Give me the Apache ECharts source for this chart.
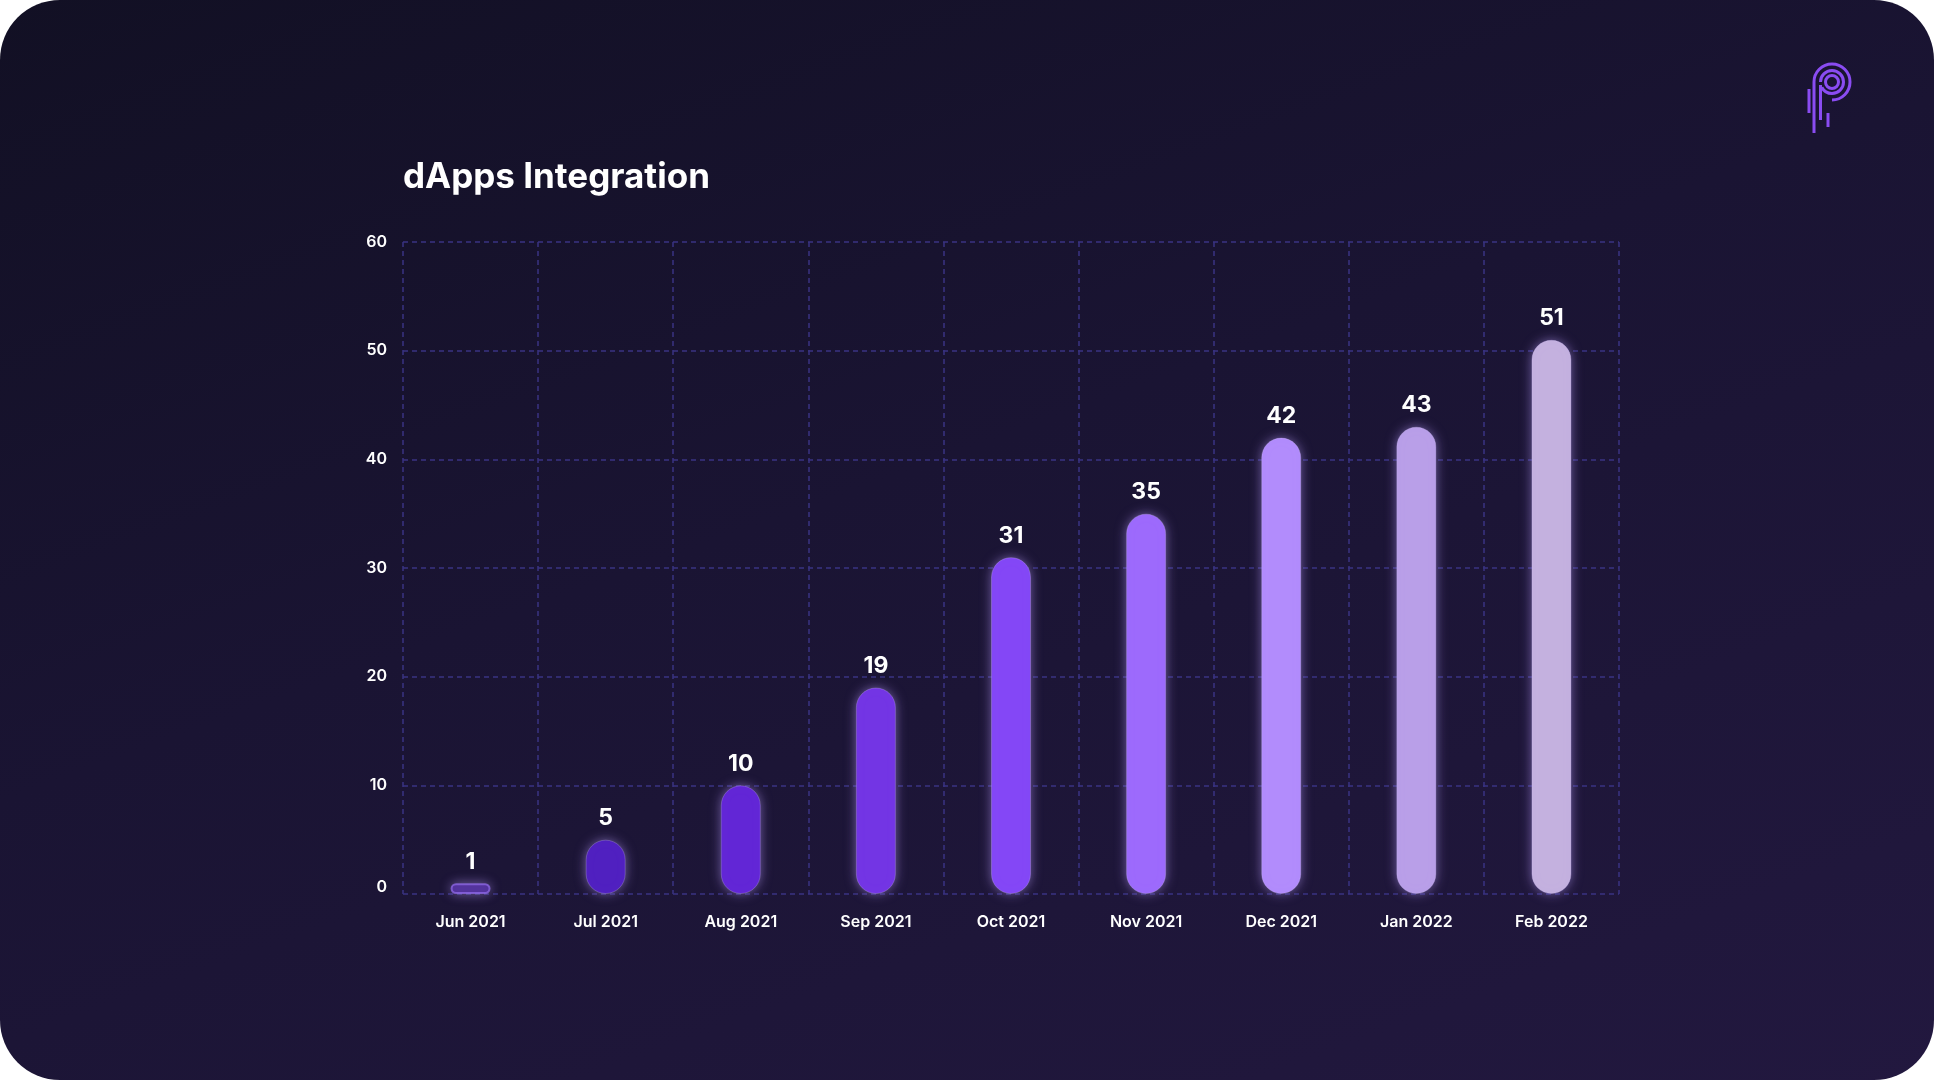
<!DOCTYPE html>
<html>
<head>
<meta charset="utf-8">
<script src="https://cdn.jsdelivr.net/npm/echarts@6/dist/echarts.min.js"></script>
<style>
  html, body { margin: 0; padding: 0; background: #ffffff; }
  #card {
    width: 1934px; height: 1080px;
    border-radius: 60px; overflow: hidden;
    background: linear-gradient(160deg, #121024 0%, #1a1433 45%, #22183f 100%);
  }
  #main { width: 1934px; height: 1080px; }
</style>
</head>
<body>
<div id="card"><div id="main"></div></div>
<script>
// chart data
let months = ['Jun 2021', 'Jul 2021', 'Aug 2021', 'Sep 2021', 'Oct 2021', 'Nov 2021', 'Dec 2021', 'Jan 2022', 'Feb 2022'];
let dappsCount = [1, 5, 10, 19, 31, 35, 42, 43, 51];
let barColors = ['#4b2b95', '#5020c0', '#6226d6', '#7335e4', '#8447f6', '#9d6afc', '#b28cfc', '#b99fe8', '#c4b1df'];

let fontName = 'Inter, Lato, sans-serif';
let gridColor = '#3a3382';

let myChart = echarts.init(document.getElementById('main'), null, { renderer: 'canvas' });

let barData = dappsCount.map((v, i) => ({
    value: v,
    itemStyle: {
        color: barColors[i],
        borderColor: i === 0 ? 'rgba(150,110,240,0.7)' : 'rgba(220,200,255,0.25)',
        borderWidth: i === 0 ? 2 : 1,
        shadowColor: 'rgba(190,160,255,0.55)',
        shadowBlur: 12
    }
}));

// logo lines (decoration, top right)
let logoColor = '#8a4cf2';
let lx = 1832, ly = 82;
let logo = [
    { type: 'circle', shape: { cx: lx, cy: ly, r: 6.5 }, style: { fill: 'none', stroke: logoColor, lineWidth: 3 } },
    { type: 'arc', shape: { cx: lx, cy: ly, r: 11.5, startAngle: Math.PI, endAngle: Math.PI * 0.85, clockwise: true }, style: { fill: 'none', stroke: logoColor, lineWidth: 3 } },
    { type: 'arc', shape: { cx: lx, cy: ly, r: 18, startAngle: Math.PI, endAngle: Math.PI * 0.5, clockwise: true }, style: { fill: 'none', stroke: logoColor, lineWidth: 3 } },
    { type: 'line', shape: { x1: lx - 18, y1: ly, x2: lx - 18, y2: 133 }, style: { stroke: logoColor, lineWidth: 3 } },
    { type: 'line', shape: { x1: lx - 11.5, y1: ly + 3, x2: lx - 11.5, y2: 120 }, style: { stroke: logoColor, lineWidth: 3 } },
    { type: 'line', shape: { x1: 1809, y1: 89, x2: 1809, y2: 113 }, style: { stroke: logoColor, lineWidth: 3 } },
    { type: 'line', shape: { x1: 1828, y1: 113, x2: 1828, y2: 127 }, style: { stroke: logoColor, lineWidth: 3 } }
];

let option = {
    backgroundColor: 'transparent',
    animation: false,
    title: {
        text: 'dApps Integration',
        left: 398,
        top: 155,
        textStyle: { color: '#ffffff', fontSize: 35, fontWeight: 700, fontFamily: fontName }
    },
    grid: { left: 403, right: 315, top: 242, bottom: 186 },
    xAxis: {
        type: 'category',
        data: months,
        axisLine: { show: false },
        axisTick: { show: false },
        splitLine: { show: true, lineStyle: { color: gridColor, type: [5, 4], width: 1.5 } },
        axisLabel: { color: '#ffffff', fontSize: 16, fontWeight: 600, fontFamily: fontName, margin: 20 }
    },
    yAxis: {
        type: 'value',
        min: 0,
        max: 60,
        interval: 10,
        axisLine: { show: false },
        axisTick: { show: false },
        splitLine: { show: true, lineStyle: { color: gridColor, type: [5, 4], width: 1.5 } },
        axisLabel: {
            color: '#ffffff', fontSize: 16, fontWeight: 600, fontFamily: fontName, margin: 16,
            formatter: v => v === 0 ? '{z|0}' : String(v),
            rich: { z: { color: '#ffffff', fontSize: 16, fontWeight: 600, fontFamily: fontName, padding: [0, 0, 14, 0] } }
        }
    },
    series: [{
        type: 'bar',
        data: barData,
        barWidth: 40,
        itemStyle: { borderRadius: 20 },
        label: {
            show: true,
            position: 'top',
            distance: 10,
            color: '#ffffff',
            fontSize: 23,
            fontWeight: 700,
            fontFamily: fontName
        }
    }],
    graphic: logo
};

myChart.setOption(option);
</script>
</body>
</html>
